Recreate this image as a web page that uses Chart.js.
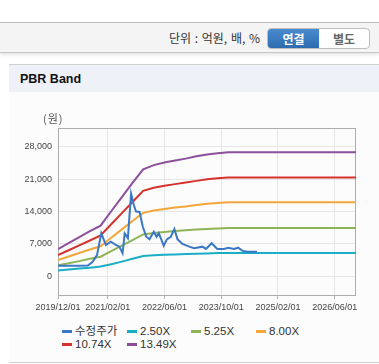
<!DOCTYPE html>
<html><head><meta charset="utf-8">
<script src="https://cdn.jsdelivr.net/npm/chart.js@4.4.1/dist/chart.umd.min.js"></script>
<style>
body{margin:0;width:379px;height:364px;overflow:hidden;background:#fff;font-family:"Liberation Sans","Noto Sans CJK KR",sans-serif;position:relative}
#bar{position:absolute;left:0;top:22px;width:379px;height:29px;background:#f4f4f4;border-top:1px solid #bdbdbd;border-bottom:1px solid #c6c6c6;box-shadow:0 2px 3px rgba(0,0,0,0.10)}
#unit{position:absolute;right:119px;top:30px;font-size:12px;color:#333;font-family:"Noto Sans CJK KR","Liberation Sans",sans-serif;line-height:15px;word-spacing:1px;white-space:nowrap}
#btns{position:absolute;left:267px;top:28px;width:101px;height:19px;border:1px solid #bdbdbd;border-radius:4px;background:#fff;overflow:hidden}
#b1{position:absolute;left:0;top:0;width:51px;height:19px;background:linear-gradient(#4a8bd0,#2d6cae);color:#fff;font-weight:bold;font-size:12px;text-align:center;line-height:19px;font-family:"Noto Sans CJK KR",sans-serif}
#b2{position:absolute;left:51px;top:0;width:50px;height:19px;color:#666;font-weight:bold;font-size:12px;text-align:center;line-height:19px;font-family:"Noto Sans CJK KR",sans-serif}
#ph{position:absolute;left:9px;top:64px;width:370px;height:28px;background:#eef2f8;border-top:1px solid #cfcfcf}
#pt{position:absolute;left:11px;top:7px;font-size:12.5px;font-weight:bold;color:#111}
#pb{position:absolute;left:9px;top:92px;width:370px;height:270px;background:#fcfcfc;border-bottom:1px solid #cfcfcf}
#won{position:absolute;left:43px;top:110px;font-size:11px;color:#555;font-family:"Noto Sans CJK KR",sans-serif;letter-spacing:1px;z-index:5}
#cw{position:absolute;left:0;top:100px;width:379px;height:220px}
#legend{position:absolute;left:0;top:322px;width:379px;height:30px;font-size:11.5px;color:#333}
.li{position:absolute;height:14px;line-height:14px;white-space:nowrap}
.lm{position:absolute;left:0;top:6px;width:10px;height:3px}
.lt{position:absolute;left:13px;top:0;font-family:"Liberation Sans","Noto Sans CJK KR",sans-serif}
</style></head><body>
<div id="bar"></div>
<div id="unit">단위 : 억원, 배, %</div>
<div id="btns"><div id="b1">연결</div><div id="b2">별도</div></div>
<div id="ph"><div id="pt">PBR Band</div></div>
<div id="pb"></div>
<div id="cw"><canvas id="c" width="379" height="220"></canvas></div>
<div id="won">(원)</div>
<div id="legend"></div>
<script>
// x values are month indexes counted from 2019/12/01
const tickMonths = [0, 14, 30, 46, 62, 78];
const tickLabels = ['2019/12/01','2021/02/01','2022/06/01','2023/10/01','2025/02/01','2026/06/01'];
const yTicks = [0, 7000, 14000, 21000, 28000];

const seriesNames = ['수정주가','2.50X','5.25X','8.00X','10.74X','13.49X'];
const seriesColors = ['#3a78c6','#1aaec6','#8fb456','#f3a73b','#d6322d','#8c4f9c'];

const priceMonths = [0,3,6,8.4,9.7,11.0,12.2,13.5,14.9,16.3,17.3,18.2,18.8,19.7,20.6,21.4,22.0,23.0,23.9,24.9,25.8,27.0,27.8,28.4,29.0,29.8,30.7,31.8,32.8,33.7,35.1,37.0,38.4,40.7,41.7,43.3,44.9,46.8,48.0,49.6,50.8,51.9,53.3,56.1];
const priceValues = [2300,2300,2300,2350,3100,4600,9300,6780,7490,6780,6420,5000,9290,8280,17850,15340,14000,13900,10700,8560,8000,9630,8560,9300,8200,6630,8000,8560,10200,8000,7000,6420,6080,6420,5930,7150,5930,5930,6200,5930,6200,5570,5350,5350];

const bandMonths = [0,3,6,9,12,15,18,21,24,27,30,33,36,39,42,45,48,84];
const band250 = [1300,1500,1700,1900,2150,2650,3200,3800,4400,4550,4650,4750,4820,4900,4970,5030,5070,5070];
const band525 = [2400,2850,3300,3800,4250,5450,6650,7850,9050,9350,9600,9800,9950,10100,10250,10350,10420,10420];
const band800 = [3550,4300,5050,5800,6500,8350,10150,11950,13700,14200,14550,14850,15100,15400,15650,15850,16000,16000];
const band1074 = [4600,5650,6700,7750,8850,11250,13650,16050,18450,19100,19550,19900,20250,20600,20950,21150,21350,21350];
const band1349 = [5900,7200,8500,9750,10950,14050,17100,20150,23100,24000,24550,25000,25400,25900,26300,26550,26750,26750];

const bands = [band250, band525, band800, band1074, band1349];
const pts = (xs, ys) => xs.map((x, i) => ({x, y: ys[i]}));

const datasets = [{label: seriesNames[0], data: pts(priceMonths, priceValues)}]
  .concat(bands.map((b, i) => ({label: seriesNames[i + 1], data: pts(bandMonths, b)})))
  .map((d, i) => Object.assign(d, {borderColor: seriesColors[i], backgroundColor: seriesColors[i], borderWidth: 2, pointRadius: 0, tension: 0, fill: false}));

const frame = {id: 'frame', beforeDatasetsDraw(c) {
  const a = c.chartArea, x = c.ctx;
  x.save(); x.strokeStyle = '#adadad'; x.lineWidth = 1;
  x.strokeRect(Math.round(a.left) + 0.5, Math.round(a.top) + 0.5, Math.round(a.right - a.left) - 1, Math.round(a.bottom - a.top));
  x.restore();
}};

new Chart(document.getElementById('c'), {
  type: 'line',
  data: {datasets},
  plugins: [frame],
  options: {
    responsive: false, animation: false,
    layout: {padding: {top: 28, right: 23, left: 0, bottom: 0}},
    plugins: {legend: {display: false}, tooltip: {enabled: false}},
    scales: {
      x: {type: 'linear', min: 0, max: 84,
        afterBuildTicks: s => { s.ticks = tickMonths.map(v => ({value: v})); },
        afterFit: s => { s.height = 25; },
        ticks: {autoSkip: false, maxRotation: 0, color: '#444', font: {size: 9, family: 'Liberation Sans'}, padding: 3,
          callback: v => tickLabels[tickMonths.indexOf(v)]},
        grid: {color: '#e6e6e6', tickLength: 4, tickColor: '#b5b5b5'},
        border: {display: false}},
      y: {min: -4000, max: 32000,
        afterBuildTicks: s => { s.ticks = yTicks.map(v => ({value: v})); },
        afterFit: s => { s.width = 58; },
        ticks: {color: '#444', font: {size: 9, family: 'Liberation Sans'}, padding: 6,
          callback: v => v.toLocaleString('en-US')},
        grid: {color: '#e6e6e6', drawTicks: false},
        border: {display: false}}
    }
  }
});

const lg = document.getElementById('legend');
const legendPos = [[62,2],[127,2],[191,2],[256,2],[62,15],[127,15]];
seriesNames.forEach((n, i) => {
  const d = document.createElement('div');
  d.className = 'li'; d.style.left = legendPos[i][0] + 'px'; d.style.top = legendPos[i][1] + 'px';
  d.innerHTML = '<div class="lm" style="background:' + seriesColors[i] + '"></div><div class="lt">' + n + '</div>';
  lg.appendChild(d);
});
</script>
</body></html>
